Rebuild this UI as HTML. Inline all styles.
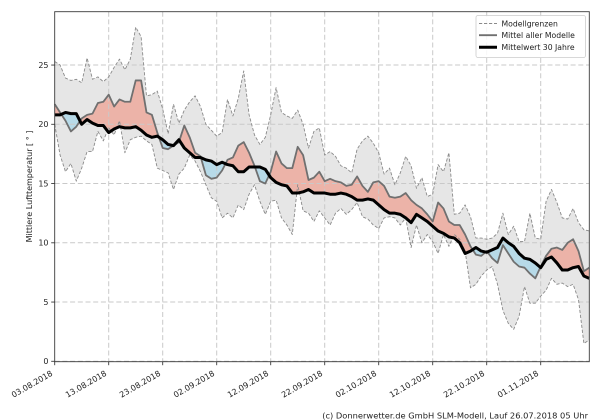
<!DOCTYPE html>
<html>
<head>
<meta charset="utf-8">
<style>
  html,body{margin:0;padding:0;background:#fff;}
  svg{display:block;}
  text{font-family:"DejaVu Sans","Liberation Sans",sans-serif;fill:#222;}
</style>
</head>
<body>
<svg width="600" height="420" viewBox="0 0 600 420" xmlns="http://www.w3.org/2000/svg">
  <rect x="0" y="0" width="600" height="420" fill="#fff"/>
  <defs>
    <clipPath id="aboveL" clipPathUnits="userSpaceOnUse">
      <polygon points="0,20.0 1,17.4 2,16.0 3,16.7 4,15.2 5,16.3 6,17.7 7,17.7 8,19.4 9,18.6 10,19.7 11,19.1 12,20.3 13,17.6 14,18.7 15,18.9 16,19.0 17,18.6 18,18.3 19,16.3 20,16.1 21,15.9 22,14.5 23,15.8 24,16.3 25,17.4 26,16.9 27,16.0 28,14.9 29,13.8 30,13.5 31,12.1 32,12.5 33,12.1 34,13.2 35,12.8 36,14.1 37,14.9 38,13.5 39,12.4 40,13.5 41,13.6 42,12.1 43,11.5 44,10.7 45,14.9 46,12.7 47,12.5 48,11.8 49,12.7 50,12.1 51,11.5 52,12.5 53,12.9 54,12.4 55,12.8 56,13.4 57,12.2 58,12.0 59,11.5 60,11.2 61,12.1 62,12.2 63,12.1 64,11.5 65,12.1 66,9.6 67,11.5 68,10.0 69,10.7 70,10.1 71,9.1 72,10.7 73,9.7 74,10.7 75,10.3 76,9.3 77,6.2 78,6.5 79,7.2 80,7.7 81,8.0 82,6.5 83,4.3 84,3.2 85,2.7 86,3.8 87,6.3 88,4.9 89,4.9 90,5.5 91,6.0 92,7.0 93,6.5 94,6.6 95,6.3 96,6.5 97,5.2 98,1.5 99,1.8 99,40 0,40"/>
    </clipPath>
    <clipPath id="aboveB" clipPathUnits="userSpaceOnUse">
      <polygon points="0,20.8 1,20.8 2,21.0 3,20.9 4,20.9 5,20.0 6,20.4 7,20.1 8,19.9 9,19.9 10,19.3 11,19.6 12,19.8 13,19.7 14,19.7 15,19.8 16,19.5 17,19.1 18,18.9 19,19.0 20,18.7 21,18.3 22,18.2 23,18.7 24,18.0 25,17.6 26,17.2 27,17.2 28,17.0 29,16.9 30,16.6 31,16.8 32,16.6 33,16.5 34,16.0 35,16.0 36,16.4 37,16.4 38,16.4 39,16.2 40,15.5 41,15.1 42,14.9 43,14.8 44,14.2 45,14.2 46,14.3 47,14.5 48,14.2 49,14.2 50,14.2 51,14.1 52,14.1 53,14.2 54,14.1 55,13.9 56,13.6 57,13.6 58,13.7 59,13.6 60,13.2 61,12.8 62,12.5 63,12.5 64,12.4 65,12.1 66,11.7 67,12.4 68,12.1 69,11.8 70,11.4 71,11.0 72,10.8 73,10.5 74,10.4 75,10.0 76,9.1 77,9.3 78,9.6 79,9.3 80,9.2 81,9.4 82,9.6 83,10.4 84,10.0 85,9.7 86,9.1 87,8.7 88,8.6 89,8.3 90,7.9 91,8.6 92,8.8 93,8.3 94,7.7 95,7.7 96,7.9 97,8.0 98,7.2 99,7.0 99,40 0,40"/>
    </clipPath>
    <clipPath id="belowB" clipPathUnits="userSpaceOnUse">
      <polygon points="0,20.8 1,20.8 2,21.0 3,20.9 4,20.9 5,20.0 6,20.4 7,20.1 8,19.9 9,19.9 10,19.3 11,19.6 12,19.8 13,19.7 14,19.7 15,19.8 16,19.5 17,19.1 18,18.9 19,19.0 20,18.7 21,18.3 22,18.2 23,18.7 24,18.0 25,17.6 26,17.2 27,17.2 28,17.0 29,16.9 30,16.6 31,16.8 32,16.6 33,16.5 34,16.0 35,16.0 36,16.4 37,16.4 38,16.4 39,16.2 40,15.5 41,15.1 42,14.9 43,14.8 44,14.2 45,14.2 46,14.3 47,14.5 48,14.2 49,14.2 50,14.2 51,14.1 52,14.1 53,14.2 54,14.1 55,13.9 56,13.6 57,13.6 58,13.7 59,13.6 60,13.2 61,12.8 62,12.5 63,12.5 64,12.4 65,12.1 66,11.7 67,12.4 68,12.1 69,11.8 70,11.4 71,11.0 72,10.8 73,10.5 74,10.4 75,10.0 76,9.1 77,9.3 78,9.6 79,9.3 80,9.2 81,9.4 82,9.6 83,10.4 84,10.0 85,9.7 86,9.1 87,8.7 88,8.6 89,8.3 90,7.9 91,8.6 92,8.8 93,8.3 94,7.7 95,7.7 96,7.9 97,8.0 98,7.2 99,7.0 99,-5 0,-5"/>
    </clipPath>
  </defs>

  <!-- fills in data coordinates -->
  <g transform="matrix(5.4 0 0 -11.85 54.7 361.3)">
    <polygon clip-path="url(#aboveL)" fill="#e6e6e6" points="0,25.3 1,25.0 2,23.9 3,23.7 4,23.8 5,23.5 6,25.6 7,23.8 8,24.0 9,23.6 10,24.0 11,24.8 12,25.5 13,24.6 14,25.5 15,28.2 16,27.4 17,22.4 18,22.5 19,22.8 20,21.3 21,19.2 22,21.7 23,20.1 24,21.2 25,21.9 26,22.4 27,21.5 28,20.0 29,19.5 30,19.0 31,19.3 32,22.1 33,20.7 34,22.2 35,24.5 36,20.8 37,19.1 38,18.3 39,18.9 40,20.8 41,23.1 42,21.0 43,20.7 44,20.5 45,21.2 46,20.0 47,18.0 48,19.4 49,19.7 50,17.4 51,17.7 52,17.3 53,16.5 54,16.3 55,15.9 56,17.9 57,18.6 58,19.0 59,18.4 60,17.6 61,15.8 62,16.3 63,14.9 64,15.9 65,17.3 66,16.5 67,14.6 68,15.5 69,13.9 70,14.1 71,16.6 72,16.0 73,17.6 74,12.4 75,12.5 76,13.2 77,12.2 78,10.4 79,10.4 80,10.3 81,10.4 82,10.8 83,12.5 84,10.7 85,11.4 86,10.1 87,10.1 88,12.5 89,10.4 90,10.3 91,13.5 92,14.5 93,13.4 94,12.1 95,12.0 96,12.9 97,11.7 98,11.1 99,11.0 99,-5 0,-5"/>
    <polygon clip-path="url(#aboveB)" fill="#ecb3a8" points="0,21.7 1,21.0 2,20.3 3,19.4 4,19.8 5,20.5 6,20.8 7,20.9 8,21.8 9,21.9 10,22.5 11,21.5 12,22.1 13,21.9 14,21.9 15,23.7 16,23.7 17,21.0 18,20.8 19,19.3 20,18.0 21,17.9 22,18.2 23,18.5 24,19.9 25,18.9 26,17.6 27,17.3 28,15.7 29,15.4 30,15.5 31,16.1 32,17.0 33,17.2 34,18.2 35,18.5 36,17.6 37,16.5 38,15.2 39,15.0 40,16.0 41,17.7 42,16.7 43,16.3 44,16.3 45,18.1 46,17.4 47,15.3 48,15.5 49,16.0 50,15.2 51,15.4 52,15.2 53,15.1 54,14.8 55,14.9 56,15.6 57,14.8 58,14.3 59,15.1 60,15.2 61,14.8 62,13.9 63,13.8 64,13.9 65,14.2 66,13.6 67,13.2 68,12.9 69,12.4 70,11.8 71,13.4 72,12.9 73,11.8 74,11.5 75,11.5 76,10.7 77,9.7 78,9.0 79,8.9 80,9.3 81,8.7 82,8.3 83,9.8 84,9.1 85,8.4 86,8.0 87,7.9 88,7.4 89,7.0 90,8.0 91,8.9 92,9.5 93,9.6 94,9.4 95,10.0 96,10.3 97,9.3 98,7.6 99,7.9 99,-5 0,-5"/>
    <polygon clip-path="url(#belowB)" fill="#b7dae8" points="0,21.7 1,21.0 2,20.3 3,19.4 4,19.8 5,20.5 6,20.8 7,20.9 8,21.8 9,21.9 10,22.5 11,21.5 12,22.1 13,21.9 14,21.9 15,23.7 16,23.7 17,21.0 18,20.8 19,19.3 20,18.0 21,17.9 22,18.2 23,18.5 24,19.9 25,18.9 26,17.6 27,17.3 28,15.7 29,15.4 30,15.5 31,16.1 32,17.0 33,17.2 34,18.2 35,18.5 36,17.6 37,16.5 38,15.2 39,15.0 40,16.0 41,17.7 42,16.7 43,16.3 44,16.3 45,18.1 46,17.4 47,15.3 48,15.5 49,16.0 50,15.2 51,15.4 52,15.2 53,15.1 54,14.8 55,14.9 56,15.6 57,14.8 58,14.3 59,15.1 60,15.2 61,14.8 62,13.9 63,13.8 64,13.9 65,14.2 66,13.6 67,13.2 68,12.9 69,12.4 70,11.8 71,13.4 72,12.9 73,11.8 74,11.5 75,11.5 76,10.7 77,9.7 78,9.0 79,8.9 80,9.3 81,8.7 82,8.3 83,9.8 84,9.1 85,8.4 86,8.0 87,7.9 88,7.4 89,7.0 90,8.0 91,8.9 92,9.5 93,9.6 94,9.4 95,10.0 96,10.3 97,9.3 98,7.6 99,7.9 99,40 0,40"/>
  </g>

  <!-- grid -->
  <g stroke="#c9c9c9" stroke-width="1" stroke-dasharray="5,2.7" fill="none">
    <line x1="54.7" y1="361.3" x2="589.3" y2="361.3"/>
    <line x1="54.7" y1="302.05" x2="589.3" y2="302.05"/>
    <line x1="54.7" y1="242.8" x2="589.3" y2="242.8"/>
    <line x1="54.7" y1="183.55" x2="589.3" y2="183.55"/>
    <line x1="54.7" y1="124.3" x2="589.3" y2="124.3"/>
    <line x1="54.7" y1="65.05" x2="589.3" y2="65.05"/>
    <line x1="108.7" y1="11.7" x2="108.7" y2="361.5"/>
    <line x1="162.7" y1="11.7" x2="162.7" y2="361.5"/>
    <line x1="216.7" y1="11.7" x2="216.7" y2="361.5"/>
    <line x1="270.7" y1="11.7" x2="270.7" y2="361.5"/>
    <line x1="324.7" y1="11.7" x2="324.7" y2="361.5"/>
    <line x1="378.7" y1="11.7" x2="378.7" y2="361.5"/>
    <line x1="432.7" y1="11.7" x2="432.7" y2="361.5"/>
    <line x1="486.7" y1="11.7" x2="486.7" y2="361.5"/>
    <line x1="540.7" y1="11.7" x2="540.7" y2="361.5"/>
  </g>

  <!-- lines in data coordinates -->
  <g transform="matrix(5.4 0 0 -11.85 54.7 361.3)" fill="none" stroke-linejoin="round">
    <polyline vector-effect="non-scaling-stroke" stroke="#8a8a8a" stroke-width="0.9" stroke-dasharray="3.2,1.8" points="0,25.3 1,25.0 2,23.9 3,23.7 4,23.8 5,23.5 6,25.6 7,23.8 8,24.0 9,23.6 10,24.0 11,24.8 12,25.5 13,24.6 14,25.5 15,28.2 16,27.4 17,22.4 18,22.5 19,22.8 20,21.3 21,19.2 22,21.7 23,20.1 24,21.2 25,21.9 26,22.4 27,21.5 28,20.0 29,19.5 30,19.0 31,19.3 32,22.1 33,20.7 34,22.2 35,24.5 36,20.8 37,19.1 38,18.3 39,18.9 40,20.8 41,23.1 42,21.0 43,20.7 44,20.5 45,21.2 46,20.0 47,18.0 48,19.4 49,19.7 50,17.4 51,17.7 52,17.3 53,16.5 54,16.3 55,15.9 56,17.9 57,18.6 58,19.0 59,18.4 60,17.6 61,15.8 62,16.3 63,14.9 64,15.9 65,17.3 66,16.5 67,14.6 68,15.5 69,13.9 70,14.1 71,16.6 72,16.0 73,17.6 74,12.4 75,12.5 76,13.2 77,12.2 78,10.4 79,10.4 80,10.3 81,10.4 82,10.8 83,12.5 84,10.7 85,11.4 86,10.1 87,10.1 88,12.5 89,10.4 90,10.3 91,13.5 92,14.5 93,13.4 94,12.1 95,12.0 96,12.9 97,11.7 98,11.1 99,11.0"/>
    <polyline vector-effect="non-scaling-stroke" stroke="#8a8a8a" stroke-width="0.9" stroke-dasharray="3.2,1.8" points="0,20.0 1,17.4 2,16.0 3,16.7 4,15.2 5,16.3 6,17.7 7,17.7 8,19.4 9,18.6 10,19.7 11,19.1 12,20.3 13,17.6 14,18.7 15,18.9 16,19.0 17,18.6 18,18.3 19,16.3 20,16.1 21,15.9 22,14.5 23,15.8 24,16.3 25,17.4 26,16.9 27,16.0 28,14.9 29,13.8 30,13.5 31,12.1 32,12.5 33,12.1 34,13.2 35,12.8 36,14.1 37,14.9 38,13.5 39,12.4 40,13.5 41,13.6 42,12.1 43,11.5 44,10.7 45,14.9 46,12.7 47,12.5 48,11.8 49,12.7 50,12.1 51,11.5 52,12.5 53,12.9 54,12.4 55,12.8 56,13.4 57,12.2 58,12.0 59,11.5 60,11.2 61,12.1 62,12.2 63,12.1 64,11.5 65,12.1 66,9.6 67,11.5 68,10.0 69,10.7 70,10.1 71,9.1 72,10.7 73,9.7 74,10.7 75,10.3 76,9.3 77,6.2 78,6.5 79,7.2 80,7.7 81,8.0 82,6.5 83,4.3 84,3.2 85,2.7 86,3.8 87,6.3 88,4.9 89,4.9 90,5.5 91,6.0 92,7.0 93,6.5 94,6.6 95,6.3 96,6.5 97,5.2 98,1.5 99,1.8"/>
    <polyline vector-effect="non-scaling-stroke" stroke="#707070" stroke-width="1.8" points="0,21.7 1,21.0 2,20.3 3,19.4 4,19.8 5,20.5 6,20.8 7,20.9 8,21.8 9,21.9 10,22.5 11,21.5 12,22.1 13,21.9 14,21.9 15,23.7 16,23.7 17,21.0 18,20.8 19,19.3 20,18.0 21,17.9 22,18.2 23,18.5 24,19.9 25,18.9 26,17.6 27,17.3 28,15.7 29,15.4 30,15.5 31,16.1 32,17.0 33,17.2 34,18.2 35,18.5 36,17.6 37,16.5 38,15.2 39,15.0 40,16.0 41,17.7 42,16.7 43,16.3 44,16.3 45,18.1 46,17.4 47,15.3 48,15.5 49,16.0 50,15.2 51,15.4 52,15.2 53,15.1 54,14.8 55,14.9 56,15.6 57,14.8 58,14.3 59,15.1 60,15.2 61,14.8 62,13.9 63,13.8 64,13.9 65,14.2 66,13.6 67,13.2 68,12.9 69,12.4 70,11.8 71,13.4 72,12.9 73,11.8 74,11.5 75,11.5 76,10.7 77,9.7 78,9.0 79,8.9 80,9.3 81,8.7 82,8.3 83,9.8 84,9.1 85,8.4 86,8.0 87,7.9 88,7.4 89,7.0 90,8.0 91,8.9 92,9.5 93,9.6 94,9.4 95,10.0 96,10.3 97,9.3 98,7.6 99,7.9"/>
    <polyline vector-effect="non-scaling-stroke" stroke="#000" stroke-width="3" points="0,20.8 1,20.8 2,21.0 3,20.9 4,20.9 5,20.0 6,20.4 7,20.1 8,19.9 9,19.9 10,19.3 11,19.6 12,19.8 13,19.7 14,19.7 15,19.8 16,19.5 17,19.1 18,18.9 19,19.0 20,18.7 21,18.3 22,18.2 23,18.7 24,18.0 25,17.6 26,17.2 27,17.2 28,17.0 29,16.9 30,16.6 31,16.8 32,16.6 33,16.5 34,16.0 35,16.0 36,16.4 37,16.4 38,16.4 39,16.2 40,15.5 41,15.1 42,14.9 43,14.8 44,14.2 45,14.2 46,14.3 47,14.5 48,14.2 49,14.2 50,14.2 51,14.1 52,14.1 53,14.2 54,14.1 55,13.9 56,13.6 57,13.6 58,13.7 59,13.6 60,13.2 61,12.8 62,12.5 63,12.5 64,12.4 65,12.1 66,11.7 67,12.4 68,12.1 69,11.8 70,11.4 71,11.0 72,10.8 73,10.5 74,10.4 75,10.0 76,9.1 77,9.3 78,9.6 79,9.3 80,9.2 81,9.4 82,9.6 83,10.4 84,10.0 85,9.7 86,9.1 87,8.7 88,8.6 89,8.3 90,7.9 91,8.6 92,8.8 93,8.3 94,7.7 95,7.7 96,7.9 97,8.0 98,7.2 99,7.0"/>
  </g>

  <!-- spines -->
  <rect x="54.7" y="11.7" width="534.6" height="350" fill="none" stroke="#3a3a3a" stroke-width="0.9"/>

  <!-- ticks -->
  <g stroke="#3a3a3a" stroke-width="0.9">
    <line x1="51.2" y1="361.3" x2="54.7" y2="361.3"/>
    <line x1="51.2" y1="302.05" x2="54.7" y2="302.05"/>
    <line x1="51.2" y1="242.8" x2="54.7" y2="242.8"/>
    <line x1="51.2" y1="183.55" x2="54.7" y2="183.55"/>
    <line x1="51.2" y1="124.3" x2="54.7" y2="124.3"/>
    <line x1="51.2" y1="65.05" x2="54.7" y2="65.05"/>
    <line x1="54.7" y1="361.7" x2="54.7" y2="365.2"/>
    <line x1="108.7" y1="361.7" x2="108.7" y2="365.2"/>
    <line x1="162.7" y1="361.7" x2="162.7" y2="365.2"/>
    <line x1="216.7" y1="361.7" x2="216.7" y2="365.2"/>
    <line x1="270.7" y1="361.7" x2="270.7" y2="365.2"/>
    <line x1="324.7" y1="361.7" x2="324.7" y2="365.2"/>
    <line x1="378.7" y1="361.7" x2="378.7" y2="365.2"/>
    <line x1="432.7" y1="361.7" x2="432.7" y2="365.2"/>
    <line x1="486.7" y1="361.7" x2="486.7" y2="365.2"/>
    <line x1="540.7" y1="361.7" x2="540.7" y2="365.2"/>
  </g>

  <!-- y tick labels -->
  <g font-size="8" text-anchor="end">
    <text x="48.5" y="364.2">0</text>
    <text x="48.5" y="304.95">5</text>
    <text x="48.5" y="245.7">10</text>
    <text x="48.5" y="186.45">15</text>
    <text x="48.5" y="127.2">20</text>
    <text x="48.5" y="67.95">25</text>
  </g>

  <!-- x tick labels -->
  <g font-size="8" text-anchor="end">
    <text transform="translate(53.2,375) rotate(-30)">03.08.2018</text>
    <text transform="translate(107.2,375) rotate(-30)">13.08.2018</text>
    <text transform="translate(161.2,375) rotate(-30)">23.08.2018</text>
    <text transform="translate(215.2,375) rotate(-30)">02.09.2018</text>
    <text transform="translate(269.2,375) rotate(-30)">12.09.2018</text>
    <text transform="translate(323.2,375) rotate(-30)">22.09.2018</text>
    <text transform="translate(377.2,375) rotate(-30)">02.10.2018</text>
    <text transform="translate(431.2,375) rotate(-30)">12.10.2018</text>
    <text transform="translate(485.2,375) rotate(-30)">22.10.2018</text>
    <text transform="translate(539.2,375) rotate(-30)">01.11.2018</text>
  </g>

  <!-- y axis label -->
  <text transform="translate(32,186.5) rotate(-90)" font-size="8" text-anchor="middle">Mittlere Lufttemperatur [ ° ]</text>

  <!-- legend -->
  <rect x="476" y="15.5" width="109.5" height="42" rx="2" ry="2" fill="#fff" fill-opacity="0.85" stroke="#cccccc" stroke-width="0.8"/>
  <line x1="479" y1="23.5" x2="497" y2="23.5" stroke="#8a8a8a" stroke-width="0.9" stroke-dasharray="3.2,1.8"/>
  <line x1="479" y1="35.2" x2="497" y2="35.2" stroke="#707070" stroke-width="1.8"/>
  <line x1="479" y1="47.2" x2="497" y2="47.2" stroke="#000" stroke-width="3"/>
  <g font-size="7.7">
    <text x="501.5" y="26.3">Modellgrenzen</text>
    <text x="501.5" y="38">Mittel aller Modelle</text>
    <text x="501.5" y="50">Mittelwert 30 Jahre</text>
  </g>

  <!-- credit -->
  <text x="588" y="418.3" font-size="8.3" text-anchor="end">(c) Donnerwetter.de GmbH SLM-Modell, Lauf 26.07.2018 05 Uhr</text>
</svg>
</body>
</html>
